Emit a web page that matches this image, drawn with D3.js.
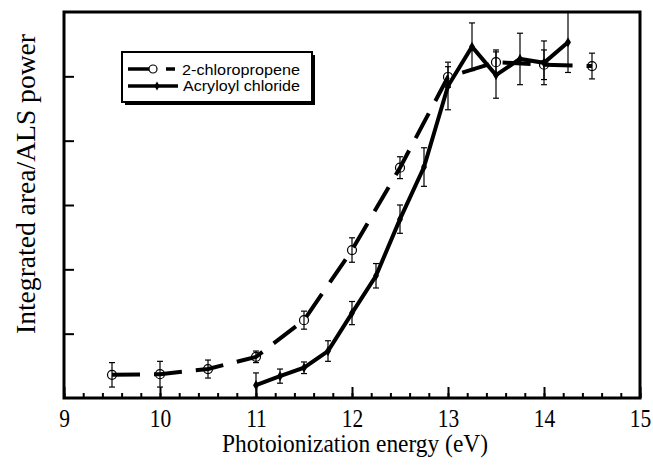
<!DOCTYPE html>
<html>
<head>
<meta charset="utf-8">
<script src="https://cdn.jsdelivr.net/npm/d3@7"></script>
<style>
  html, body { margin: 0; padding: 0; background: #fff; }
  svg { display: block; }
</style>
</head>
<body>
<svg id="chart" width="653" height="466"></svg>
<script>
// ---- data ----
const chloroX   = [9.5, 10.0, 10.5, 11.0, 11.5, 12.0, 12.5, 13.0, 13.5, 14.0, 14.5];
const chloroY   = [0.36, 0.37, 0.45, 0.64, 1.21, 2.30, 3.58, 4.99, 5.22, 5.18, 5.16];
const chloroErr = [0.19, 0.20, 0.14, 0.09, 0.14, 0.19, 0.17, 0.16, 0.19, 0.23, 0.20];

const acrylX   = [11.0, 11.25, 11.5, 11.75, 12.0, 12.25, 12.5, 12.75, 13.0, 13.25, 13.5, 13.75, 14.0, 14.25];
const acrylY   = [0.20, 0.34, 0.47, 0.73, 1.32, 1.90, 2.78, 3.59, 4.85, 5.46, 5.02, 5.27, 5.21, 5.53];
const acrylErr = [0.19, 0.11, 0.09, 0.16, 0.18, 0.19, 0.22, 0.30, 0.37, 0.37, 0.36, 0.40, 0.34, 0.47];

const xTicks = [9, 10, 11, 12, 13, 14, 15];
const yTicks = [1, 2, 3, 4, 5];
const seriesNames = ["2-chloropropene", "Acryloyl chloride"];
const xTitle = "Photoionization energy (eV)";
const yTitle = "Integrated area/ALS power";

// ---- layout ----
const svg = d3.select("#chart");
const L = 64, R = 640, T = 12, B = 398;
const x = d3.scaleLinear().domain([9, 15]).range([L, R]);
const y = d3.scaleLinear().domain([0, 6]).range([B, T]);

const serif = "'Liberation Serif', 'Times New Roman', serif";
const sans = "'Liberation Sans', Arial, Helvetica, sans-serif";

svg.append("clipPath").attr("id", "plotclip")
  .append("rect").attr("x", L).attr("y", T).attr("width", R - L).attr("height", B - T);

// axes with inward ticks
const minorTicks = d3.range(9, 15.001, 0.2).map(v => +v.toFixed(1));
svg.append("g").attr("transform", `translate(0,${B})`)
  .call(d3.axisBottom(x).tickValues(minorTicks).tickSize(-5).tickFormat(""))
  .call(g => g.select(".domain").remove())
  .call(g => g.selectAll("line").attr("stroke-width", 2));
svg.append("g").attr("transform", `translate(0,${B})`)
  .call(d3.axisBottom(x).tickValues(xTicks).tickSize(-11).tickFormat(d3.format("d")))
  .call(g => g.select(".domain").remove())
  .call(g => g.selectAll("line").attr("stroke-width", 2))
  .call(g => g.selectAll("text").attr("font-family", serif).attr("font-size", 25)
           .attr("fill", "#000").attr("dy", "0.71em").attr("y", 11)
           .attr("transform", "scale(0.86,1)"));
svg.append("g").attr("transform", `translate(${L},0)`)
  .call(d3.axisLeft(y).tickValues(yTicks).tickSize(-10).tickFormat(""))
  .call(g => g.select(".domain").remove())
  .call(g => g.selectAll("line").attr("stroke-width", 2));

// frame
svg.append("rect").attr("x", L).attr("y", T).attr("width", R - L).attr("height", B - T)
  .attr("fill", "none").attr("stroke", "#000").attr("stroke-width", 3);

// titles
svg.append("text").attr("x", 355).attr("y", 452)
  .attr("text-anchor", "middle").attr("font-family", serif).attr("font-size", 25)
  .attr("textLength", 266).attr("lengthAdjust", "spacingAndGlyphs")
  .text(xTitle);
svg.append("text").attr("transform", `translate(35,184) rotate(-90)`)
  .attr("text-anchor", "middle").attr("font-family", serif).attr("font-size", 27)
  .attr("textLength", 300).attr("lengthAdjust", "spacingAndGlyphs")
  .text(yTitle);

const plot = svg.append("g").attr("clip-path", "url(#plotclip)");

const chloro = chloroX.map((v, i) => ({ x: v, y: chloroY[i], e: chloroErr[i] }));
const acryl = acrylX.map((v, i) => ({ x: v, y: acrylY[i], e: acrylErr[i] }));
const line = d3.line().x(d => x(d.x)).y(d => y(d.y));

function errorBars(data) {
  const g = plot.append("g").attr("stroke", "#000").attr("stroke-width", 1.2);
  data.forEach(d => {
    const x0 = x(d.x), y1 = y(d.y + d.e), y2 = y(d.y - d.e);
    g.append("line").attr("x1", x0).attr("x2", x0).attr("y1", y1).attr("y2", y2);
    g.append("line").attr("x1", x0 - 3).attr("x2", x0 + 3).attr("y1", y1).attr("y2", y1);
    g.append("line").attr("x1", x0 - 3).attr("x2", x0 + 3).attr("y1", y2).attr("y2", y2);
  });
}
errorBars(chloro);
errorBars(acryl);

plot.append("path").datum(chloro).attr("d", line)
  .attr("fill", "none").attr("stroke", "#000").attr("stroke-width", 4)
  .attr("stroke-dasharray", "28,14");
plot.append("path").datum(acryl).attr("d", line)
  .attr("fill", "none").attr("stroke", "#000").attr("stroke-width", 4)
  .attr("stroke-linejoin", "miter");

plot.selectAll(".circ").data(chloro).enter().append("circle")
  .attr("cx", d => x(d.x)).attr("cy", d => y(d.y)).attr("r", 4.5)
  .attr("fill", "none").attr("stroke", "#000").attr("stroke-width", 1.2);
const diamond = d3.symbol().type(d3.symbolDiamond).size(30);
plot.selectAll(".dia").data(acryl).enter().append("path")
  .attr("d", diamond).attr("transform", d => `translate(${x(d.x)},${y(d.y)})`)
  .attr("fill", "#000");

// legend
const lg = svg.append("g");
lg.append("rect").attr("x", 125).attr("y", 55).attr("width", 190).attr("height", 50).attr("fill", "#000");
lg.append("rect").attr("x", 122).attr("y", 52).attr("width", 190).attr("height", 50)
  .attr("fill", "#fff").attr("stroke", "#000").attr("stroke-width", 2);
lg.append("line").attr("x1", 128).attr("x2", 175).attr("y1", 69).attr("y2", 69)
  .attr("stroke", "#000").attr("stroke-width", 3.5).attr("stroke-dasharray", "22,16,10");
lg.append("circle").attr("cx", 153).attr("cy", 69).attr("r", 4)
  .attr("fill", "#fff").attr("stroke", "#000").attr("stroke-width", 1.2);
lg.append("line").attr("x1", 128).attr("x2", 178).attr("y1", 86).attr("y2", 86)
  .attr("stroke", "#000").attr("stroke-width", 3.5);
lg.append("path").attr("d", d3.symbol().type(d3.symbolDiamond).size(24)())
  .attr("transform", "translate(157,86)").attr("fill", "#000");
lg.append("text").attr("x", 182).attr("y", 75).attr("font-family", sans).attr("font-size", 15.5)
  .attr("textLength", 118).attr("lengthAdjust", "spacingAndGlyphs").text(seriesNames[0]);
lg.append("text").attr("x", 183).attr("y", 91).attr("font-family", sans).attr("font-size", 15.5)
  .attr("textLength", 117).attr("lengthAdjust", "spacingAndGlyphs").text(seriesNames[1]);
</script>
</body>
</html>
